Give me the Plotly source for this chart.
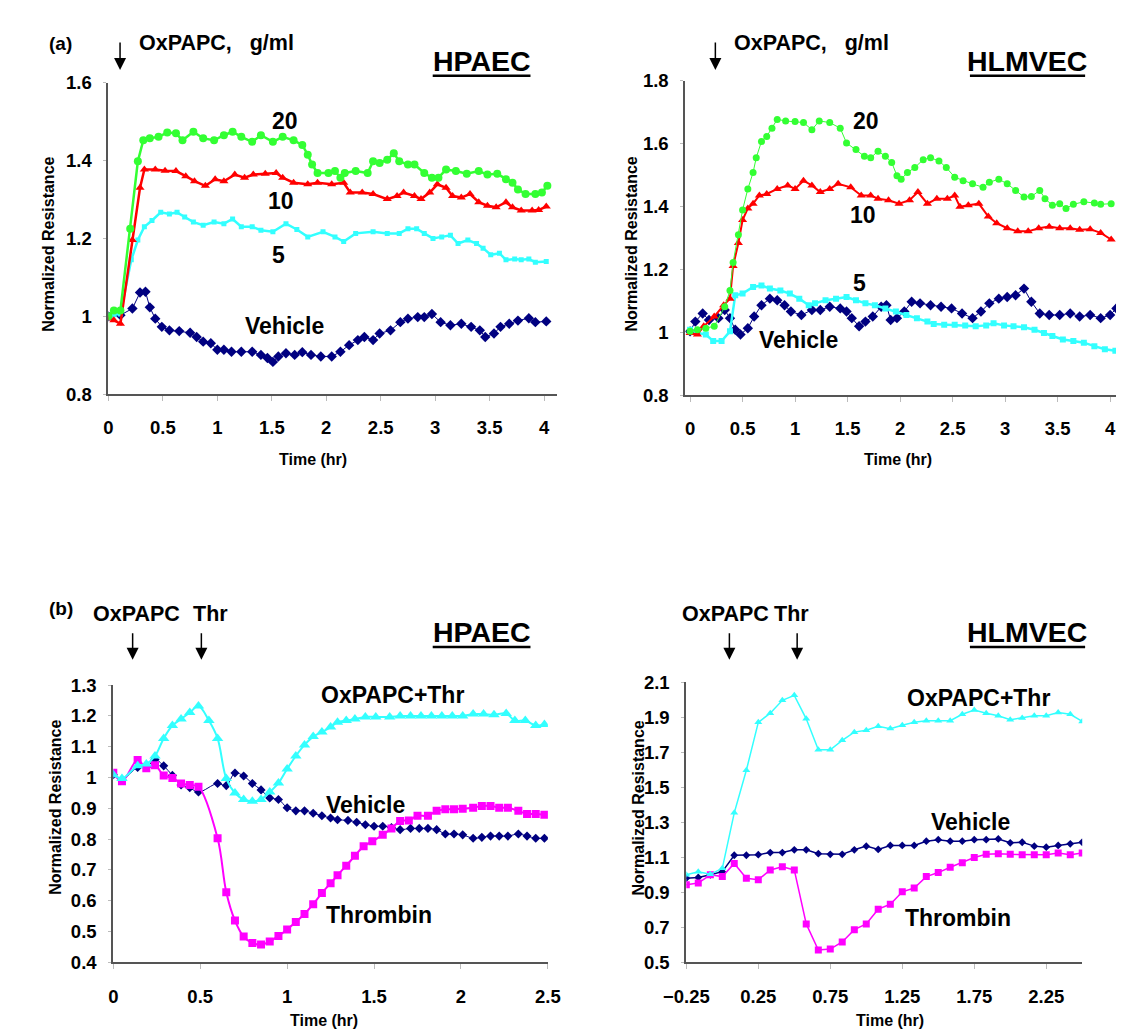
import plotly.graph_objects as go

W, H = 1124, 1032
FONT = "Liberation Sans, Arial, sans-serif"

# ---------------- (a) HPAEC ----------------
a1_t20 = [0, .05, .11, .2, .27, .32, .38, .46, .54, .62, .68, .78, .87, .97, 1.06, 1.14, 1.22, 1.32, 1.40, 1.51,
          1.60, 1.70, 1.78, 1.83, 1.87, 1.92, 2.02, 2.08, 2.13, 2.17, 2.27, 2.38, 2.43, 2.49, 2.56, 2.62, 2.67, 2.75,
          2.81, 2.90, 2.97, 3.03, 3.10, 3.19, 3.29, 3.40, 3.48, 3.57, 3.65, 3.71, 3.76, 3.83, 3.92, 3.98, 4.03]
a1_v20 = [1.0, 1.015, 1.015, 1.225, 1.398, 1.452, 1.457, 1.461, 1.472, 1.47, 1.452, 1.474, 1.457, 1.452, 1.465,
          1.474, 1.461, 1.448, 1.465, 1.448, 1.461, 1.452, 1.44, 1.415, 1.39, 1.368, 1.368, 1.373, 1.356, 1.368,
          1.373, 1.368, 1.398, 1.394, 1.402, 1.419, 1.398, 1.39, 1.39, 1.368, 1.356, 1.356, 1.377, 1.373, 1.366,
          1.373, 1.364, 1.366, 1.352, 1.343, 1.326, 1.314, 1.314, 1.318, 1.335]

a1_t10 = [0, .05, .11, .22, .29, .33, .43, .52, .62, .71, .79, .89, .98, 1.06, 1.16, 1.25, 1.33, 1.44, 1.54, 1.60,
          1.70, 1.83, 1.92, 2.05, 2.16, 2.22, 2.33, 2.43, 2.56, 2.65, 2.71, 2.81, 2.87, 2.95, 3.02, 3.10, 3.16,
          3.24, 3.32, 3.40, 3.48, 3.56, 3.65, 3.71, 3.79, 3.89, 3.95, 4.02]
a1_v10 = [0.995, 0.99, 0.981, 1.196, 1.33, 1.377, 1.377, 1.374, 1.373, 1.36, 1.347, 1.335, 1.352, 1.347, 1.364,
          1.356, 1.364, 1.366, 1.368, 1.356, 1.343, 1.339, 1.343, 1.339, 1.343, 1.318, 1.318, 1.314, 1.301, 1.309,
          1.318, 1.309, 1.301, 1.318, 1.339, 1.330, 1.309, 1.305, 1.314, 1.293, 1.284, 1.28, 1.293, 1.28, 1.272,
          1.272, 1.273, 1.282]

a1_t5 = [0, .05, .11, .21, .27, .33, .40, .48, .56, .63, .70, .78, .87, .97, 1.06, 1.14, 1.22, 1.32, 1.40, 1.51,
         1.63, 1.73, 1.83, 1.97, 2.08, 2.16, 2.27, 2.43, 2.56, 2.67, 2.75, 2.83, 2.90, 2.98, 3.06, 3.14, 3.21,
         3.30, 3.38, 3.44, 3.51, 3.59, 3.65, 3.73, 3.79, 3.86, 3.92, 4.02]
a1_v5 = [1.0, 1.004, 1.006, 1.145, 1.196, 1.23, 1.246, 1.267, 1.263, 1.267, 1.255, 1.242, 1.234, 1.242, 1.238,
         1.25, 1.23, 1.23, 1.221, 1.217, 1.238, 1.223, 1.204, 1.217, 1.204, 1.192, 1.213, 1.217, 1.213, 1.213,
         1.225, 1.225, 1.213, 1.2, 1.204, 1.208, 1.187, 1.196, 1.187, 1.175, 1.158, 1.162, 1.145, 1.147, 1.145,
         1.147, 1.139, 1.141]

a1_tv = [0, .11, .22, .29, .34, .38, .43, .49, .56, .65, .75, .81, .87, .94, 1.0, 1.06, 1.13, 1.22, 1.32, 1.40,
         1.46, 1.51, 1.56, 1.63, 1.71, 1.78, 1.86, 1.95, 2.05, 2.13, 2.21, 2.29, 2.35, 2.43, 2.49, 2.59, 2.68,
         2.75, 2.84, 2.90, 2.97, 3.05, 3.14, 3.24, 3.33, 3.41, 3.46, 3.54, 3.60, 3.68, 3.76, 3.86, 3.92, 4.02]
a1_vv = [1.0, 1.003, 1.02, 1.061, 1.063, 1.023, 0.994, 0.973, 0.964, 0.962, 0.958, 0.947, 0.935, 0.931, 0.914,
         0.914, 0.909, 0.909, 0.909, 0.901, 0.893, 0.883, 0.897, 0.905, 0.901, 0.908, 0.901, 0.897, 0.897, 0.909,
         0.926, 0.939, 0.947, 0.939, 0.956, 0.964, 0.985, 0.994, 0.998, 0.998, 1.006, 0.985, 0.977, 0.981, 0.973,
         0.964, 0.947, 0.956, 0.973, 0.981, 0.989, 0.995, 0.985, 0.987]

# ---------------- (a) HLMVEC ----------------
a2_t20 = [0, .07, .15, .23, .33, .38, .41, .46, .50, .55, .60, .63, .68, .73, .78, .83, .91, 1.0, 1.08, 1.16, 1.23,
          1.33, 1.43, 1.49, 1.58, 1.66, 1.72, 1.79, 1.86, 1.92, 1.97, 2.01, 2.07, 2.14, 2.22, 2.29, 2.37, 2.44,
          2.52, 2.60, 2.69, 2.79, 2.85, 2.94, 3.02, 3.10, 3.18, 3.25, 3.33, 3.38, 3.45, 3.52, 3.58, 3.65, 3.75,
          3.85, 3.91, 4.01]
a2_v20 = [1.003, 1.008, 1.013, 1.019, 1.081, 1.133, 1.222, 1.31, 1.389, 1.456, 1.508, 1.555, 1.607, 1.623, 1.649,
          1.677, 1.672, 1.67, 1.667, 1.644, 1.672, 1.667, 1.649, 1.602, 1.581, 1.56, 1.555, 1.576, 1.56, 1.54,
          1.498, 1.487, 1.508, 1.524, 1.549, 1.555, 1.545, 1.524, 1.493, 1.482, 1.472, 1.461, 1.477, 1.487, 1.472,
          1.451, 1.43, 1.432, 1.451, 1.425, 1.404, 1.409, 1.394, 1.407, 1.415, 1.411, 1.407, 1.409]

a2_t10 = [0, .07, .13, .23, .32, .38, .41, .46, .50, .55, .60, .66, .73, .83, .93, 1.0, 1.08, 1.16, 1.24, 1.33,
          1.41, 1.53, 1.63, 1.72, 1.79, 1.89, 1.99, 2.09, 2.17, 2.26, 2.35, 2.45, 2.52, 2.57, 2.65, 2.75, 2.84,
          2.92, 3.02, 3.12, 3.22, 3.32, 3.42, 3.52, 3.62, 3.71, 3.81, 3.91, 4.01]
a2_v10 = [0.998, 0.993, 1.019, 1.05, 1.086, 1.107, 1.211, 1.284, 1.357, 1.394, 1.409, 1.435, 1.44, 1.456, 1.467,
          1.456, 1.482, 1.467, 1.446, 1.456, 1.472, 1.461, 1.435, 1.435, 1.425, 1.42, 1.409, 1.42, 1.446, 1.409,
          1.425, 1.425, 1.435, 1.399, 1.404, 1.409, 1.368, 1.347, 1.331, 1.321, 1.321, 1.331, 1.336, 1.331, 1.331,
          1.326, 1.328, 1.316, 1.295]

a2_t5 = [0, .07, .15, .22, .30, .38, .43, .50, .60, .68, .76, .86, .95, 1.04, 1.13, 1.19, 1.29, 1.39, 1.49, 1.58,
         1.67, 1.76, 1.86, 1.96, 2.06, 2.16, 2.26, 2.32, 2.42, 2.52, 2.62, 2.72, 2.82, 2.89, 2.99, 3.08, 3.18,
         3.28, 3.37, 3.45, 3.55, 3.65, 3.75, 3.85, 3.95, 4.05]
a2_v5 = [1.008, 0.998, 0.993, 0.972, 0.972, 1.003, 1.118, 1.123, 1.144, 1.149, 1.139, 1.133, 1.123, 1.107, 1.086,
         1.092, 1.102, 1.107, 1.112, 1.102, 1.092, 1.086, 1.076, 1.066, 1.055, 1.045, 1.034, 1.026, 1.024, 1.024,
         1.022, 1.019, 1.022, 1.029, 1.022, 1.019, 1.016, 1.008, 0.998, 0.988, 0.977, 0.972, 0.967, 0.956, 0.946,
         0.941]

a2_tv = [0, .05, .12, .18, .27, .33, .38, .43, .48, .55, .61, .68, .76, .83, .90, .96, 1.06, 1.16, 1.24, 1.33,
         1.43, 1.49, 1.54, 1.61, 1.67, 1.74, 1.82, 1.87, 1.91, 1.97, 2.04, 2.11, 2.19, 2.29, 2.39, 2.49, 2.59,
         2.69, 2.77, 2.85, 2.94, 3.02, 3.10, 3.18, 3.25, 3.33, 3.42, 3.52, 3.62, 3.71, 3.81, 3.91, 4.0, 4.06]
a2_vv = [1.003, 1.034, 1.06, 1.039, 1.045, 1.071, 1.045, 1.008, 0.993, 1.013, 1.05, 1.086, 1.107, 1.102, 1.086,
         1.066, 1.055, 1.071, 1.071, 1.081, 1.076, 1.066, 1.045, 1.019, 1.034, 1.05, 1.081, 1.086, 1.039, 1.045,
         1.066, 1.097, 1.092, 1.086, 1.081, 1.076, 1.06, 1.045, 1.066, 1.092, 1.107, 1.112, 1.118, 1.139, 1.097,
         1.06, 1.055, 1.055, 1.06, 1.05, 1.055, 1.045, 1.055, 1.076]

# ---------------- (b) HPAEC ----------------
b1_tc = [0, .05, .14, .19, .24, .29, .34, .39, .44, .49, .55, .60, .65, .70, .75, .80, .85, .90, .95, 1.0, 1.05,
         1.10, 1.15, 1.20, 1.25, 1.29, 1.34, 1.39, 1.45, 1.51, 1.59, 1.65, 1.71, 1.77, 1.83, 1.89, 1.95, 2.01,
         2.07, 2.13, 2.19, 2.26, 2.31, 2.37, 2.43, 2.48]
b1_vc = [1.009, 0.997, 1.038, 1.044, 1.07, 1.127, 1.169, 1.19, 1.211, 1.232, 1.185, 1.127, 0.997, 0.95, 0.929,
         0.923, 0.929, 0.953, 0.982, 1.028, 1.07, 1.106, 1.133, 1.148, 1.164, 1.18, 1.185, 1.19, 1.197, 1.197,
         1.197, 1.2, 1.2, 1.2, 1.2, 1.2, 1.2, 1.2, 1.206, 1.206, 1.204, 1.208, 1.185, 1.185, 1.169, 1.172]

b1_tm = [0, .05, .14, .19, .24, .29, .34, .39, .44, .49, .60, .65, .70, .75, .80, .85, .90, .95, 1.0, 1.05, 1.10,
         1.15, 1.20, 1.25, 1.29, 1.34, 1.39, 1.44, 1.49, 1.55, 1.60, 1.65, 1.70, 1.75, 1.81, 1.86, 1.91, 1.96,
         2.01, 2.07, 2.12, 2.17, 2.22, 2.27, 2.33, 2.38, 2.43, 2.48]
b1_vm = [1.016, 0.988, 1.057, 1.03, 1.04, 1.007, 0.999, 0.981, 0.976, 0.97, 0.803, 0.628, 0.536, 0.484, 0.463,
         0.458, 0.468, 0.486, 0.507, 0.531, 0.557, 0.589, 0.625, 0.657, 0.683, 0.714, 0.746, 0.777, 0.793, 0.814,
         0.835, 0.859, 0.861, 0.876, 0.876, 0.892, 0.897, 0.897, 0.899, 0.902, 0.908, 0.908, 0.902, 0.902, 0.892,
         0.882, 0.882, 0.879]

b1_tv = [0, .05, .14, .19, .24, .29, .34, .39, .44, .49, .60, .65, .70, .75, .80, .85, .90, .95, 1.0, 1.05, 1.10,
         1.15, 1.20, 1.25, 1.29, 1.35, 1.40, 1.45, 1.50, 1.55, 1.60, 1.65, 1.71, 1.76, 1.81, 1.86, 1.91, 1.96,
         2.01, 2.07, 2.12, 2.17, 2.22, 2.27, 2.33, 2.38, 2.43, 2.48]
b1_vv = [1.009, 0.994, 1.033, 1.033, 1.059, 1.038, 1.007, 0.976, 0.967, 0.953, 0.981, 0.974, 1.015, 1.005, 0.981,
         0.96, 0.934, 0.929, 0.902, 0.892, 0.892, 0.884, 0.876, 0.869, 0.863, 0.861, 0.855, 0.847, 0.842, 0.842,
         0.838, 0.831, 0.835, 0.835, 0.835, 0.831, 0.817, 0.817, 0.814, 0.803, 0.806, 0.81, 0.81, 0.81, 0.817,
         0.81, 0.803, 0.803]

# ---------------- (b) HLMVEC ----------------
b2_t = [-0.25, -0.167, -0.083, 0.0, 0.083, 0.167, 0.25, 0.333, 0.417, 0.5, 0.583, 0.667, 0.75, 0.833, 0.917,
        1.0, 1.083, 1.167, 1.25, 1.333, 1.417, 1.5, 1.583, 1.667, 1.75, 1.833, 1.917, 2.0, 2.083, 2.167, 2.25,
        2.333, 2.417, 2.5]
b2_vc = [1.0, 1.018, 1.003, 1.037, 1.354, 1.597, 1.871, 1.923, 1.997, 2.025, 1.891, 1.714, 1.714, 1.768, 1.815,
         1.826, 1.848, 1.835, 1.854, 1.871, 1.88, 1.88, 1.88, 1.917, 1.941, 1.923, 1.908, 1.886, 1.895, 1.908,
         1.908, 1.927, 1.917, 1.876]
b2_vv = [0.981, 0.985, 1.0, 1.018, 1.112, 1.112, 1.115, 1.127, 1.127, 1.143, 1.143, 1.121, 1.117, 1.117, 1.143,
         1.164, 1.145, 1.168, 1.168, 1.168, 1.192, 1.201, 1.192, 1.192, 1.201, 1.201, 1.205, 1.183, 1.186, 1.164,
         1.158, 1.168, 1.177, 1.186]
b2_vm = [0.944, 0.953, 1.0, 0.99, 1.065, 0.981, 0.972, 1.028, 1.046, 1.028, 0.72, 0.571, 0.576, 0.617, 0.687,
         0.72, 0.804, 0.832, 0.903, 0.925, 0.99, 1.013, 1.043, 1.069, 1.099, 1.117, 1.121, 1.117, 1.115, 1.115,
         1.115, 1.125, 1.115, 1.125]

# tick labels
a1_xticks = [0, 0.5, 1, 1.5, 2, 2.5, 3, 3.5, 4]
a1_yticks = [0.8, 1, 1.2, 1.4, 1.6]
a2_yticks = [0.8, 1, 1.2, 1.4, 1.6, 1.8]
b1_xticks = [0, 0.5, 1, 1.5, 2, 2.5]
b1_yticks = [0.4, 0.5, 0.6, 0.7, 0.8, 0.9, 1, 1.1, 1.2, 1.3]
b2_xticks = [-0.25, 0.25, 0.75, 1.25, 1.75, 2.25]
b2_yticks = [0.5, 0.7, 0.9, 1.1, 1.3, 1.5, 1.7, 1.9, 2.1]

GREEN, RED, CYAN, NAVY, MAG = "#33FF33", "#FF0000", "#33FFFF", "#000080", "#FF00FF"


def px(x):
    return x / W


def py(y):
    return 1 - y / H


fig = go.Figure()


def add(xs, ys, color, symbol, size, width, n, shape="linear"):
    fig.add_trace(go.Scatter(
        x=xs, y=ys, mode="lines+markers", xaxis="x" + n, yaxis="y" + n,
        line=dict(color=color, width=width, shape=shape),
        marker=dict(color=color, symbol=symbol, size=size, line=dict(width=0)),
        showlegend=False, hoverinfo="skip"))


add(a1_tv, a1_vv, NAVY, "diamond", 8, 1, "")
add(a1_t5, a1_v5, CYAN, "square", 5, 2.5, "")
add(a1_t10, a1_v10, RED, "triangle-up", 8, 2.5, "")
add(a1_t20, a1_v20, GREEN, "circle", 8, 2.5, "")

add(a2_tv, a2_vv, NAVY, "diamond", 8, 1, "2")
add(a2_t5, a2_v5, CYAN, "square", 6, 2.5, "2")
add(a2_t10, a2_v10, RED, "triangle-up", 8, 2, "2")
add(a2_t20, a2_v20, GREEN, "circle", 7, 1, "2")

add(b1_tv, b1_vv, NAVY, "diamond", 7, 1, "3", "spline")
add(b1_tm, b1_vm, MAG, "square", 8, 2, "3", "spline")
add(b1_tc, b1_vc, CYAN, "triangle-up", 10, 2, "3", "spline")

add(b2_t, b2_vv, NAVY, "diamond", 6, 1.5, "4")
add(b2_t, b2_vm, MAG, "square", 7, 1.5, "4")
add(b2_t, b2_vc, CYAN, "triangle-up", 7, 1.5, "4")

tickfont = dict(family=FONT, size=18.5, color="black", weight="bold")


def xax(dom, rng, ticks, anchor):
    return dict(domain=dom, range=rng, tickvals=ticks, showline=True, linecolor="#555", linewidth=2,
                ticks="outside", ticklen=5, tickcolor="#bbb", tickwidth=1, showgrid=False, zeroline=False,
                tickfont=tickfont, anchor=anchor, ticklabelstandoff=11, fixedrange=True)


def yax(dom, rng, ticks, anchor):
    return dict(domain=dom, range=rng, tickvals=ticks, showline=True, linecolor="#555", linewidth=2,
                ticks="outside", ticklen=3, tickcolor="#bbb", showgrid=False, zeroline=False,
                tickfont=tickfont, anchor=anchor, ticklabelstandoff=8, fixedrange=True)


fig.update_layout(
    width=W, height=H, margin=dict(l=0, r=0, t=0, b=0),
    paper_bgcolor="white", plot_bgcolor="white",
    xaxis=xax([px(80), px(543)], [0, 4.115], a1_xticks, "y"),
    yaxis=yax([py(383), py(65)], [0.8, 1.6], a1_yticks, "x"),
    xaxis2=xax([px(676), px(1123.5)], [-0.045, 4.08], a1_xticks, "y2"),
    yaxis2=yax([py(384), py(63)], [0.8, 1.8], a2_yticks, "x2"),
    xaxis3=xax([px(85), px(534)], [0, 2.5], b1_xticks, "y3"),
    yaxis3=yax([py(963), py(680)], [0.4, 1.3], b1_yticks, "x3"),
    xaxis4=xax([px(677), px(1086)], [-0.25, 2.5], b2_xticks, "y4"),
    yaxis4=yax([py(963), py(677)], [0.5, 2.1], b2_yticks, "x4"),
)

ann = []


def txt(x, y, s, size=23, angle=0):
    ann.append(dict(x=px(x), y=py(y), xref="paper", yref="paper", text=s, showarrow=False,
                    font=dict(family=FONT, size=size, color="black", weight="bold"),
                    xanchor="center", yanchor="middle", textangle=angle))


def txt_left(x, y, s, size=21.5):
    ann.append(dict(x=px(x), y=py(y), xref="paper", yref="paper", text=s, showarrow=False,
                    font=dict(family=FONT, size=size, color="black", weight="bold"),
                    xanchor="left", yanchor="middle"))


def arrow(x, ytip, length=29):
    ann.append(dict(x=px(x), y=py(ytip), xref="paper", yref="paper", text="", showarrow=True,
                    ax=0, ay=-length, arrowhead=2, arrowsize=1.6, arrowwidth=1.5, arrowcolor="black"))


NB = "\u00a0"
# panel labels
txt_left(17, 25, "(a)", 19)
txt_left(17, 602, "(b)", 19)
# (a) left
arrow(92, 52)
txt_left(109, 25, "OxPAPC," + NB * 3 + "g/ml")
txt(466, 43, "HPAEC", 28.5)
txt(262, 104, "20")
txt(258, 186, "10")
txt(256, 241, "5")
txt(262, 313, "Vehicle")
# (a) right
arrow(707, 52)
txt_left(724, 25, "OxPAPC," + NB * 3 + "g/ml")
txt(1029, 43, "HLMVEC", 28.5)
txt(863, 104, "20")
txt(860, 200, "10")
txt(856, 269, "5")
txt(793, 328, "Vehicle")
# (b) left
txt(109, 607, "OxPAPC", 21.5)
txt(185, 607, "Thr", 21.5)
arrow(105, 654, 28)
arrow(176, 654, 28)
txt(466, 626, "HPAEC", 28.5)
txt(373, 690, "OxPAPC+Thr")
txt(346, 802, "Vehicle")
txt(359, 915, "Thrombin")
# (b) right
txt(717, 607, "OxPAPC", 21.5)
txt(786, 607, "Thr", 21.5)
arrow(721.5, 654, 28)
arrow(791.5, 654, 28)
txt(1029, 626, "HLMVEC", 28.5)
txt(979, 693, "OxPAPC+Thr")
txt(971, 820, "Vehicle")
txt(958, 918, "Thrombin")

# axis titles
for (x, y) in [(18, 230), (620, 230), (25, 805), (628, 805)]:
    txt(x, y, "Normalized Resistance", 16, -90)
for (x, y) in [(291, 450), (896, 450), (303, 1022), (887, 1022)]:
    txt(x, y, "Time (hr)", 16)

fig.update_layout(annotations=ann)

# underlines
for (x0, x1, y) in [(415, 516, 58), (970, 1089, 58), (415, 516, 641), (970, 1089, 641)]:
    fig.add_shape(type="line", xref="paper", yref="paper", x0=px(x0), x1=px(x1), y0=py(y), y1=py(y),
                  line=dict(color="black", width=2.5))

fig.write_html("out.html")
